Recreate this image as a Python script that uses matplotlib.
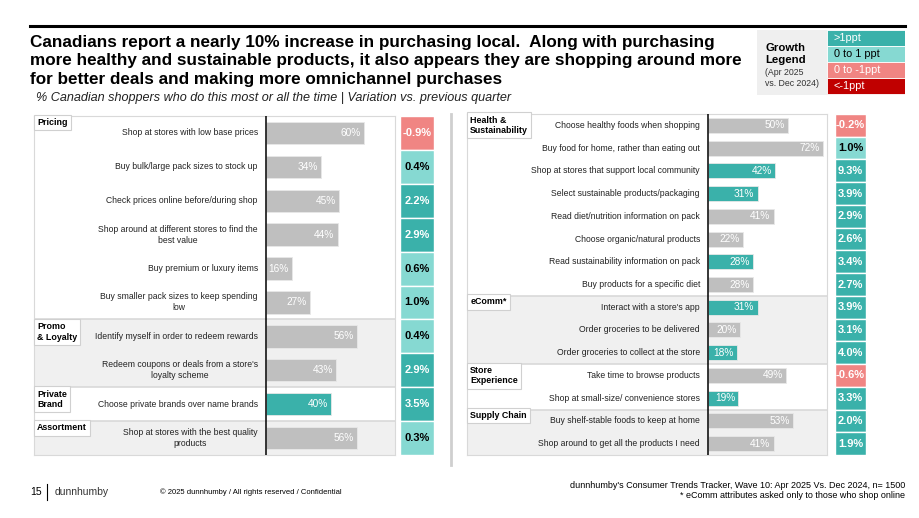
import matplotlib.pyplot as plt
from matplotlib.patches import Rectangle

plt.rcParams['font.family'] = ['Liberation Sans', 'DejaVu Sans']

W, H = 920, 518

# ---------------- data ----------------
left_sections = ["Pricing", "Promo\n& Loyalty", "Private\nBrand", "Assortment"]
left_counts = [6, 2, 1, 1]
left_items = [
    "Shop at stores with low base prices",
    "Buy bulk/large pack sizes to stock up",
    "Check prices online before/during shop",
    "Shop around at different stores to find the\nbest value",
    "Buy premium or luxury items",
    "Buy smaller pack sizes to keep spending\nlow",
    "Identify myself in order to redeem rewards",
    "Redeem coupons or deals from a store's\nloyalty scheme",
    "Choose private brands over name brands",
    "Shop at stores with the best quality\nproducts",
]
left_values = [60, 34, 45, 44, 16, 27, 56, 43, 40, 56]
left_change = [-0.9, 0.4, 2.2, 2.9, 0.6, 1.0, 0.4, 2.9, 3.5, 0.3]
left_highlight = [0, 0, 0, 0, 0, 0, 0, 0, 1, 0]

right_sections = ["Health &\nSustainability", "eComm*", "Store\nExperience", "Supply Chain"]
right_counts = [8, 3, 2, 2]
right_items = [
    "Choose healthy foods when shopping",
    "Buy food for home, rather than eating out",
    "Shop at stores that support local community",
    "Select sustainable products/packaging",
    "Read diet/nutrition information on pack",
    "Choose organic/natural products",
    "Read sustainability information on pack",
    "Buy products for a specific diet",
    "Interact with a store's app",
    "Order groceries to be delivered",
    "Order groceries to collect at the store",
    "Take time to browse products",
    "Shop at small-size/ convenience stores",
    "Buy shelf-stable foods to keep at home",
    "Shop around to get all the products I need",
]
right_values = [50, 72, 42, 31, 41, 22, 28, 28, 31, 20, 18, 49, 19, 53, 41]
right_change = [-0.2, 1.0, 9.3, 3.9, 2.9, 2.6, 3.4, 2.7, 3.9, 3.1, 4.0, -0.6, 3.3, 2.0, 1.9]
right_highlight = [0, 0, 1, 1, 0, 0, 1, 0, 1, 0, 1, 0, 1, 0, 0]

legend_labels = [">1ppt", "0 to 1 ppt", "0 to -1ppt", "<-1ppt"]

# ---------------- styles ----------------
TEAL = "#3ab1aa"
LTEAL = "#86d9d2"
SALMON = "#f08583"
DRED = "#c00000"
GREYBAR = "#bfbfbf"
BAND = "#f0f0f0"
legend_colors = [TEAL, LTEAL, SALMON, DRED]


def change_style(v):
    if v > 1:
        return TEAL, "white"
    if v >= 0:
        return LTEAL, "black"
    if v >= -1:
        return SALMON, "white"
    return DRED, "white"


def px_axes(fig, x0, y0, x1, y1):
    return fig.add_axes([x0 / W, 1 - y1 / H, (x1 - x0) / W, (y1 - y0) / H])


fig = plt.figure(figsize=(W / 100, H / 100), dpi=100)


def panel(x0, x_axis, x1, y0, y1, cx0, cx1, sections, counts, items, values,
          change, highlight, scale, bar_fs, item_fs, lab_fs, cell_fs):
    n = len(items)
    ax = px_axes(fig, x0, y0, x1, y1)
    ax.set_xlim(-(x_axis - x0) / scale, (x1 - x_axis) / scale)
    ax.set_ylim(n, 0)
    ax.set_xticks([])
    ax.set_yticks([])
    for s in ax.spines.values():
        s.set_color("#d9d9d9")
        s.set_linewidth(0.8)
    xmin, xmax = ax.get_xlim()

    start = 0
    for k, (name, c) in enumerate(zip(sections, counts)):
        if k % 2 == 1:
            ax.axhspan(start, start + c, color=BAND, zorder=0, lw=0)
        if k > 0:
            ax.axhline(start, color="#d9d9d9", lw=1.2, zorder=1)
        ax.text(xmin + 2.0, start + 0.07, name, ha="left", va="top",
                fontsize=lab_fs, fontweight="bold", linespacing=1.25, zorder=5,
                bbox=dict(boxstyle="square,pad=0.35", fc="white", ec="#d0d0d0", lw=0.8))
        start += c

    ys = [i + 0.5 for i in range(n)]
    cols = [TEAL if h else GREYBAR for h in highlight]
    ax.barh(ys, values, height=0.66, color=cols, edgecolor="#e8e8e8", lw=0.6, zorder=3)
    for y, v, lab in zip(ys, values, items):
        ax.text(v - 2, y, f"{v}%", ha="right", va="center", color="white",
                fontsize=bar_fs, zorder=4)
        ax.text(-5, y, lab, ha="right", va="center", fontsize=item_fs,
                multialignment="center", linespacing=1.3, color="#222222", zorder=4)
    ax.axvline(0, color="black", lw=1.1, zorder=4)

    cax = px_axes(fig, cx0, y0, cx1, y1)
    cax.set_xlim(0, 1)
    cax.set_ylim(n, 0)
    cax.axis("off")
    for y, v in zip(ys, change):
        fc, tc = change_style(v)
        cax.add_patch(Rectangle((0, y - 0.5), 1, 1, fc=fc, ec="white", lw=1.0))
        cax.text(0.5, y, f"{v:.1f}%", ha="center", va="center", color=tc,
                 fontsize=cell_fs, fontweight="bold")


panel(34, 266, 395, 116, 455, 400, 434, left_sections, left_counts, left_items,
      left_values, left_change, left_highlight, 1.63, 7.3, 6.2, 6.4, 8)
panel(467, 708, 827, 114, 455, 835, 866, right_sections, right_counts, right_items,
      right_values, right_change, right_highlight, 1.6, 7.3, 6.2, 6.4, 8)

# separator between panels
fig.add_artist(plt.Line2D([451 / W, 451 / W], [1 - 114 / H, 1 - 465 / H],
                          color="#cfcfcf", lw=2))

# top rule
fig.add_artist(plt.Line2D([30 / W, 905 / W], [1 - 26 / H, 1 - 26 / H],
                          color="black", lw=2.2))

# title and subtitle
title = ("Canadians report a nearly 10% increase in purchasing local.  Along with purchasing\n"
         "more healthy and sustainable products, it also appears they are shopping around more\n"
         "for better deals and making more omnichannel purchases")
fig.text(30 / W, 1 - 35 / H, title, ha="left", va="top", fontsize=12.3,
         fontweight="bold", linespacing=1.29)
fig.text(36 / W, 1 - 98 / H,
         "% Canadian shoppers who do this most or all the time | Variation vs. previous quarter",
         ha="left", va="center", fontsize=9.1, style="italic", color="#222222")

# growth legend
lax = px_axes(fig, 757, 30, 905, 95)
lax.set_xlim(757, 905)
lax.set_ylim(95, 30)
lax.axis("off")
lax.add_patch(Rectangle((757, 30), 70, 65, fc="#efefef", ec="none"))
lax.text(765, 54, "Growth\nLegend", ha="left", va="center", fontsize=8.2,
         fontweight="bold", linespacing=1.3)
lax.text(765, 78, "(Apr 2025\nvs. Dec 2024)", ha="left", va="center", fontsize=6.3,
         color="#333333", linespacing=1.25)
for i, (lab, c) in enumerate(zip(legend_labels, legend_colors)):
    top = 30 + i * 16
    lax.add_patch(Rectangle((827, top), 78, 16, fc=c, ec="white", lw=0.6))
    lax.text(834, top + 8, lab, ha="left", va="center", fontsize=7.8,
             color="black" if c == LTEAL else "white")

# footer
fig.text(30 / W, 1 - 492 / H, "15", ha="left", va="center", fontsize=7.5)
fig.add_artist(plt.Line2D([47 / W, 47 / W], [1 - 484 / H, 1 - 500 / H],
                          color="black", lw=0.8))
fig.text(55 / W, 1 - 492 / H, "dunnhumby", ha="left", va="center", fontsize=7.5,
         color="#333333")
fig.text(160 / W, 1 - 492 / H, "© 2025 dunnhumby / All rights reserved / Confidential",
         ha="left", va="center", fontsize=5.5)
fig.text(905 / W, 1 - 486 / H,
         "dunnhumby's Consumer Trends Tracker, Wave 10: Apr 2025 Vs. Dec 2024, n= 1500",
         ha="right", va="center", fontsize=6.5)
fig.text(905 / W, 1 - 496 / H, "* eComm attributes asked only to those who shop online",
         ha="right", va="center", fontsize=6.5)

fig.savefig("out.png", dpi=100)
